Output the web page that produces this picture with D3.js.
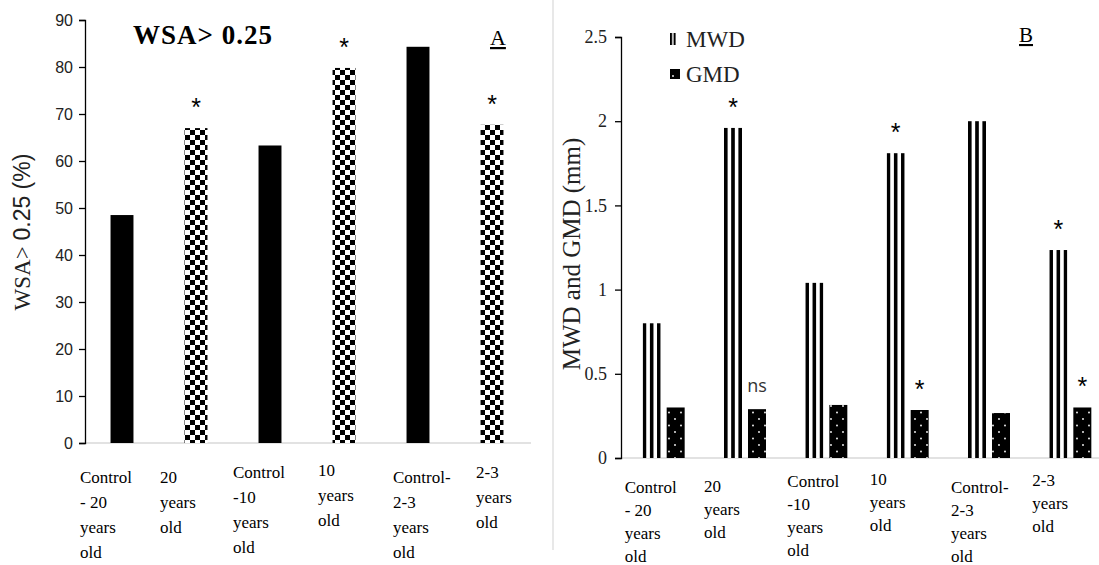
<!DOCTYPE html>
<html>
<head>
<meta charset="utf-8">
<script src="https://cdn.jsdelivr.net/npm/d3@7/dist/d3.min.js"></script>
<style>
  body { margin: 0; background: #fff; }
  svg { display: block; }
</style>
</head>
<body>
<svg id="chart" width="1099" height="565"></svg>
<script>
(function () {
  'use strict';

  // categories shared by both panels
  var categories = ['c20', 't20', 'c10', 't10', 'c23', 't23'];
  var categoryLines = [
    ['Control', '- 20', 'years', 'old'],
    ['20', 'years', 'old'],
    ['Control', '-10', 'years', 'old'],
    ['10', 'years', 'old'],
    ['Control-', '2-3', 'years', 'old'],
    ['2-3', 'years', 'old']
  ];

  // panel A: WSA > 0.25 (%)
  var wsaValues = [48.5, 67.0, 63.3, 79.8, 84.3, 67.7];
  var wsaSig = ['', '*', '', '*', '', '*'];
  var wsaTicks = [0, 10, 20, 30, 40, 50, 60, 70, 80, 90];

  // panel B: MWD and GMD (mm)
  var seriesB = ['MWD', 'GMD'];
  var mwdValues = [0.80, 1.96, 1.04, 1.81, 2.00, 1.235];
  var gmdValues = [0.30, 0.29, 0.315, 0.285, 0.267, 0.30];
  var mwdSig = ['', '*', '', '*', '', '*'];
  var gmdSig = ['', 'ns', '', '*', '', '*'];
  var bTicks = [0, 0.5, 1, 1.5, 2, 2.5];

  // label layout (left shift from category centre, vertical shift)
  var labelDxA = [-42, -36, -37, -26, -25, -16];
  var labelDyA = [0, 0, -5, -7, 0, -5];
  var labelDxB = [-39, -41, -39, -38, -38, -38];
  var labelDyB = [0, -1, -6, -8, 0, -7];

  var serif = '"Liberation Serif", "Times New Roman", serif';
  var sans = '"Liberation Sans", Arial, sans-serif';

  var svg = d3.select('#chart');
  var defs = svg.append('defs');

  function makePatterns() {
    var checker = defs.append('pattern')
      .attr('id', 'checker')
      .attr('patternUnits', 'userSpaceOnUse')
      .attr('width', 10).attr('height', 10);
    checker.append('rect').attr('width', 10).attr('height', 10).attr('fill', '#fff');
    checker.append('rect').attr('width', 5).attr('height', 5).attr('fill', '#000');
    checker.append('rect').attr('x', 5).attr('y', 5).attr('width', 5).attr('height', 5).attr('fill', '#000');

    // three vertical stripes per bar
    var stripes = defs.append('pattern')
      .attr('id', 'stripes')
      .attr('patternUnits', 'objectBoundingBox')
      .attr('patternContentUnits', 'objectBoundingBox')
      .attr('width', 0.4).attr('height', 1);
    stripes.append('rect').attr('width', 0.4).attr('height', 1).attr('fill', '#fff');
    stripes.append('rect').attr('width', 0.2).attr('height', 1).attr('fill', '#000');

    // two stripes for the legend key
    var stripes2 = defs.append('pattern')
      .attr('id', 'stripes2')
      .attr('patternUnits', 'objectBoundingBox')
      .attr('patternContentUnits', 'objectBoundingBox')
      .attr('width', 0.6).attr('height', 1);
    stripes2.append('rect').attr('width', 0.6).attr('height', 1).attr('fill', '#fff');
    stripes2.append('rect').attr('width', 0.35).attr('height', 1).attr('fill', '#000');

    var dots = defs.append('pattern')
      .attr('id', 'dots')
      .attr('patternUnits', 'userSpaceOnUse')
      .attr('width', 12).attr('height', 13);
    dots.append('rect').attr('width', 12).attr('height', 13).attr('fill', '#000');
    dots.append('circle').attr('cx', 3).attr('cy', 3).attr('r', 0.9).attr('fill', '#fff');
    dots.append('circle').attr('cx', 9).attr('cy', 9.5).attr('r', 0.9).attr('fill', '#fff');
  }

  function drawCategoryLabels(x, dxs, dys, baseY, lineH) {
    categories.forEach(function (c, i) {
      var t = svg.append('text')
        .attr('font-family', serif)
        .attr('font-size', 17)
        .attr('fill', '#000');
      categoryLines[i].forEach(function (line, j) {
        t.append('tspan')
          .attr('x', x(c) + x.bandwidth() / 2 + dxs[i])
          .attr('y', baseY + dys[i] + j * lineH)
          .text(line);
      });
    });
  }

  // significance marks: '*' drawn large, 'ns' as plain text
  function drawSig(g, data, xPos, yPos, sig) {
    g.selectAll('text')
      .data(data)
      .enter().append('text')
      .attr('x', xPos)
      .attr('y', function (d, i) { return yPos(d) - (sig[i] === 'ns' ? 17 : 12); })
      .attr('text-anchor', 'middle')
      .attr('font-family', function (d, i) { return sig[i] === 'ns' ? '"Open Sans", sans-serif' : sans; })
      .attr('font-size', function (d, i) { return sig[i] === 'ns' ? 18 : 25; })
      .attr('fill', function (d, i) { return sig[i] === 'ns' ? '#333' : '#000'; })
      .text(function (d, i) { return sig[i]; });
  }

  function drawPanelA() {
    var x = d3.scaleBand()
      .domain(categories)
      .range([85, 529])
      .paddingInner(0.69)
      .paddingOuter(0.345);
    var y = d3.scaleLinear().domain([0, 90]).range([443, 20]);

    // x axis baseline
    svg.append('line')
      .attr('x1', 85).attr('x2', 531)
      .attr('y1', y(0)).attr('y2', y(0))
      .attr('stroke', '#d9d9d9').attr('stroke-width', 1.5);

    var yAxis = svg.append('g')
      .attr('transform', 'translate(85,0)')
      .call(d3.axisLeft(y).tickValues(wsaTicks).tickSize(6).tickPadding(6));
    yAxis.select('.domain').attr('stroke', '#000').attr('stroke-width', 1.3);
    yAxis.selectAll('.tick line').attr('stroke', '#000').attr('stroke-width', 1.3);
    yAxis.selectAll('.tick text')
      .attr('font-family', sans).attr('font-size', 16).attr('fill', '#222');

    svg.append('g').selectAll('rect')
      .data(wsaValues)
      .enter().append('rect')
      .attr('x', function (d, i) { return x(categories[i]); })
      .attr('y', function (d) { return y(d); })
      .attr('width', x.bandwidth())
      .attr('height', function (d) { return y(0) - y(d); })
      .attr('fill', function (d, i) { return i % 2 === 0 ? '#000' : 'url(#checker)'; });

    drawSig(svg.append('g'), wsaValues,
      function (d, i) { return x(categories[i]) + x.bandwidth() / 2; }, y, wsaSig);

    drawCategoryLabels(x, labelDxA, labelDyA, 483, 25);

    // title and panel letter
    svg.append('text')
      .attr('x', 133).attr('y', 44)
      .attr('font-family', serif).attr('font-size', 27).attr('font-weight', 'bold')
      .attr('letter-spacing', 1)
      .text('WSA> 0.25');

    svg.append('text')
      .attr('x', 490).attr('y', 45)
      .attr('font-family', serif).attr('font-size', 22)
      .attr('text-decoration', 'underline')
      .text('A');

    var yl = svg.append('text')
      .attr('transform', 'translate(30,232) rotate(-90)')
      .attr('text-anchor', 'middle')
      .attr('font-size', 23).attr('fill', '#222');
    yl.append('tspan').attr('font-family', serif).text('WSA> ');
    yl.append('tspan').attr('font-family', sans).text('0.25 (%)');
  }

  function drawPanelB() {
    var x0 = d3.scaleBand()
      .domain(categories)
      .range([623, 1111])
      .paddingInner(0)
      .paddingOuter(0);
    var x1 = d3.scaleBand()
      .domain(seriesB)
      .range([0, 42])
      .paddingInner(0.25);
    var y = d3.scaleLinear().domain([0, 2.5]).range([458, 37]);
    var groupStart = function (c) { return x0(c) + x0.bandwidth() / 2 - 21; };

    svg.append('line')
      .attr('x1', 621).attr('x2', 1099)
      .attr('y1', y(0)).attr('y2', y(0))
      .attr('stroke', '#d9d9d9').attr('stroke-width', 1.5);

    var yAxis = svg.append('g')
      .attr('transform', 'translate(621,0)')
      .call(d3.axisLeft(y).tickValues(bTicks).tickSize(6).tickPadding(8)
        .tickFormat(function (d) { return String(d); }));
    yAxis.select('.domain').attr('stroke', '#000').attr('stroke-width', 1.3);
    yAxis.selectAll('.tick line').attr('stroke', '#000').attr('stroke-width', 1.3);
    yAxis.selectAll('.tick text')
      .attr('font-family', serif).attr('font-size', 18).attr('fill', '#222');

    var series = [
      { key: 'MWD', values: mwdValues, sig: mwdSig, fill: 'url(#stripes)' },
      { key: 'GMD', values: gmdValues, sig: gmdSig, fill: 'url(#dots)' }
    ];

    series.forEach(function (s) {
      svg.append('g').selectAll('rect')
        .data(s.values)
        .enter().append('rect')
        .attr('x', function (d, i) { return groupStart(categories[i]) + x1(s.key); })
        .attr('y', function (d) { return y(d); })
        .attr('width', x1.bandwidth())
        .attr('height', function (d) { return y(0) - y(d); })
        .attr('fill', s.fill);

      drawSig(svg.append('g'), s.values,
        function (d, i) { return groupStart(categories[i]) + x1(s.key) + x1.bandwidth() / 2; },
        y, s.sig);
    });

    drawCategoryLabels(x0, labelDxB, labelDyB, 493, 23);

    // legend
    svg.append('rect').attr('x', 670).attr('y', 33).attr('width', 6).attr('height', 12)
      .attr('fill', 'url(#stripes2)');
    svg.append('rect').attr('x', 670).attr('y', 69).attr('width', 10).attr('height', 10)
      .attr('fill', '#000');
    svg.append('circle').attr('cx', 673).attr('cy', 76).attr('r', 0.9).attr('fill', '#fff');
    svg.selectAll('.legend-label')
      .data(seriesB)
      .enter().append('text')
      .attr('class', 'legend-label')
      .attr('x', 686)
      .attr('y', function (d, i) { return 47 + i * 35; })
      .attr('font-family', serif).attr('font-size', 23)
      .attr('fill', '#222')
      .text(function (d) { return d; });

    svg.append('text')
      .attr('x', 1019).attr('y', 42)
      .attr('font-family', serif).attr('font-size', 21)
      .attr('text-decoration', 'underline')
      .text('B');

    svg.append('text')
      .attr('transform', 'translate(580,254) rotate(-90)')
      .attr('text-anchor', 'middle')
      .attr('font-family', serif).attr('font-size', 25).attr('fill', '#222')
      .text('MWD and GMD (mm)');
  }

  makePatterns();

  // divider between the two panels
  svg.append('line')
    .attr('x1', 553).attr('x2', 553).attr('y1', 0).attr('y2', 550)
    .attr('stroke', '#d9d9d9').attr('stroke-width', 1.2);

  drawPanelA();
  drawPanelB();
})();
</script>
</body>
</html>
